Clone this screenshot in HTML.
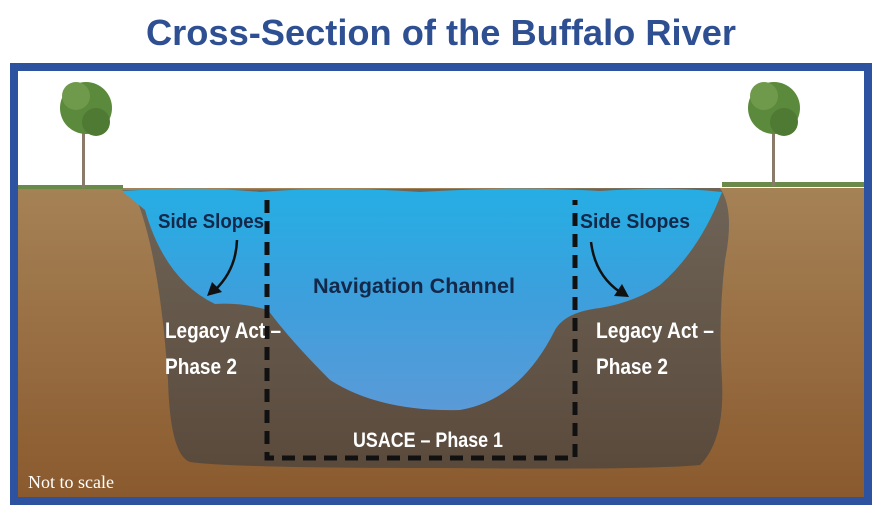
<!DOCTYPE html>
<html><head><meta charset="utf-8"><style>
html,body{margin:0;padding:0;background:#fff;width:883px;height:518px;overflow:hidden}
</style></head><body>
<svg width="883" height="518" viewBox="0 0 883 518" xmlns="http://www.w3.org/2000/svg">
<defs>
<linearGradient id="soil" x1="0" y1="0" x2="0" y2="1"><stop offset="0" stop-color="#a58256"/><stop offset="1" stop-color="#8a5a2e"/></linearGradient>
<linearGradient id="water" x1="0" y1="0" x2="0" y2="1"><stop offset="0" stop-color="#25aee4"/><stop offset="0.5" stop-color="#3d9fdc"/><stop offset="1" stop-color="#5a9ad8"/></linearGradient>
<linearGradient id="sed" x1="0" y1="0" x2="0" y2="1"><stop offset="0" stop-color="#6e6457"/><stop offset="1" stop-color="#5a4a3c"/></linearGradient>
</defs>
<text x="441" y="45" text-anchor="middle" font-family="Liberation Sans, sans-serif" font-weight="bold" font-size="36" fill="#2e4f92" textLength="590" lengthAdjust="spacingAndGlyphs">Cross-Section of the Buffalo River</text>
<rect x="14" y="67" width="854" height="434" fill="#fff" stroke="#2d52a0" stroke-width="8"/>
<rect x="18" y="188" width="846" height="309" fill="url(#soil)"/>
<rect x="18" y="185" width="105" height="4" fill="#6a8a4a"/>
<rect x="722" y="182" width="142" height="5" fill="#6a8a4a"/>
<path d="M122,190 L720,188 Q735,210 725,260 Q718,320 722,380 Q725,440 700,465 Q650,470 440,468 Q230,468 190,462 Q170,455 168,380 Q160,260 137,200 Z" fill="url(#sed)"/>
<path d="M122,191 Q200,186 260,192 Q330,186 420,192 Q520,186 600,191 Q670,186 722,192 Q700,250 660,285 Q635,302 600,308 Q565,312 555,330 Q520,400 460,410 Q380,412 330,380 Q290,340 268,310 Q240,302 215,304 Q165,280 145,210 Z" fill="url(#water)"/>
<rect x="82" y="120" width="3" height="68" fill="#8a7a6a"/>
<circle cx="86" cy="108" r="26" fill="#5c8a3c"/><circle cx="76" cy="96" r="14" fill="#6f9a4c"/><circle cx="96" cy="122" r="14" fill="#4f7a34"/>
<rect x="772" y="118" width="3" height="68" fill="#8a7a6a"/>
<circle cx="774" cy="108" r="26" fill="#5c8a3c"/><circle cx="764" cy="96" r="14" fill="#6f9a4c"/><circle cx="784" cy="122" r="14" fill="#4f7a34"/>
<path d="M267,200 L267,458 L575,458 L575,200" fill="none" stroke="#111" stroke-width="5" stroke-dasharray="13,8"/>
<g font-family="Liberation Sans, sans-serif" font-weight="bold">
<text x="158" y="228" font-size="20" fill="#14284a" textLength="106" lengthAdjust="spacingAndGlyphs">Side Slopes</text>
<text x="580" y="228" font-size="20" fill="#14284a" textLength="110" lengthAdjust="spacingAndGlyphs">Side Slopes</text>
<text x="313" y="293" font-size="21" fill="#14284a" textLength="202" lengthAdjust="spacingAndGlyphs">Navigation Channel</text>
<text x="165" y="338" font-size="22" fill="#fff" textLength="116" lengthAdjust="spacingAndGlyphs">Legacy Act –</text>
<text x="165" y="374" font-size="22" fill="#fff" textLength="72" lengthAdjust="spacingAndGlyphs">Phase 2</text>
<text x="596" y="338" font-size="22" fill="#fff" textLength="118" lengthAdjust="spacingAndGlyphs">Legacy Act –</text>
<text x="596" y="374" font-size="22" fill="#fff" textLength="72" lengthAdjust="spacingAndGlyphs">Phase 2</text>
<text x="353" y="447" font-size="21" fill="#fff" textLength="150" lengthAdjust="spacingAndGlyphs">USACE – Phase 1</text>
</g>
<path d="M237,240 Q236,270 215,290" fill="none" stroke="#111" stroke-width="2.5"/>
<path d="M207,296 L212,282 L222,292 Z" fill="#111"/>
<path d="M591,242 Q595,275 620,292" fill="none" stroke="#111" stroke-width="2.5"/>
<path d="M629,297 L614,296 L622,284 Z" fill="#111"/>
<text x="28" y="488" font-family="Liberation Serif, serif" font-size="18" fill="#fff">Not to scale</text>
</svg>
</body></html>
